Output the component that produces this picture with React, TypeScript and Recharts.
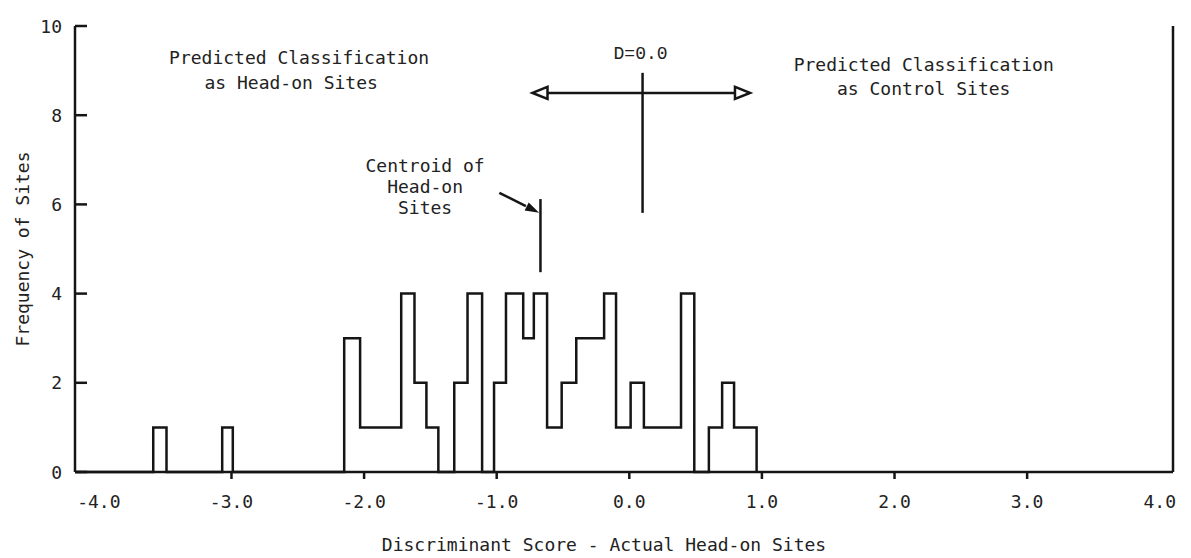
import React from "react";
import { LineChart, Line, XAxis, YAxis, ReferenceLine, ReferenceDot, Label } from "recharts";

// step edges of the histogram (discriminant score) and the site count that starts at each edge
const edges = [-4.18, -3.59, -3.49, -3.07, -2.99, -2.15, -2.03, -1.72, -1.62, -1.53, -1.44, -1.32, -1.22, -1.11, -1.02, -0.93, -0.8, -0.72, -0.62, -0.51, -0.4, -0.19, -0.1, 0.01, 0.11, 0.39, 0.49, 0.6, 0.7, 0.79, 0.96];
const counts = [0, 1, 0, 1, 0, 3, 1, 4, 2, 1, 0, 2, 4, 0, 2, 4, 3, 4, 1, 2, 3, 4, 1, 2, 1, 4, 0, 1, 2, 1, 0];

const xTicks = [-4, -3, -2, -1, 0, 1, 2, 3, 4];
const yTicks = [0, 2, 4, 6, 8, 10];

const hist = edges.map((x, i) => ({ x, y: counts[i] }));

const INK = "#151515";
const TEXT = "#222";
const FONT = "'DejaVu Sans Mono', monospace";
const SW = 2.5;

const LeftTick = ({ x, y, payload }: any) => (
  <g>
    <line x1={x + 13} x2={x + 25} y1={y} y2={y} stroke={INK} strokeWidth={SW} />
    <text x={x} y={y} textAnchor="end" dominantBaseline="central" fontFamily={FONT} fontSize={18} fill={TEXT}>
      {payload.value}
    </text>
  </g>
);

const RightTick = ({ x, y }: any) => (
  <line x1={x - 12} x2={x} y1={y} y2={y} stroke={INK} strokeWidth={SW} />
);

const XTick = ({ x, y, payload }: any) => (
  <g>
    {Math.abs(payload.value) < 4 && (
      <line x1={x} x2={x} y1={y - 23} y2={y - 16} stroke={INK} strokeWidth={SW} />
    )}
    <text x={x} y={y + 6} textAnchor="middle" dominantBaseline="central" fontFamily={FONT} fontSize={18} fill={TEXT}>
      {payload.value.toFixed(1)}
    </text>
  </g>
);

const XTitle = (p: any) => {
  const vb = p.viewBox;
  return (
    <text x={vb.x + vb.width / 2 - 20} y={vb.y + vb.height + 32} textAnchor="middle" dominantBaseline="central" fontFamily={FONT} fontSize={18} fill={TEXT}>
      Discriminant Score - Actual Head-on Sites
    </text>
  );
};

const YTitle = (p: any) => {
  const vb = p.viewBox;
  const cx = vb.x + 22;
  const cy = vb.y + vb.height / 2;
  return (
    <text x={cx} y={cy} transform={`rotate(-90 ${cx} ${cy})`} textAnchor="middle" dominantBaseline="central" fontFamily={FONT} fontSize={18} fill={TEXT}>
      Frequency of Sites
    </text>
  );
};

// annotation helpers
const textAt = (s: string, font = FONT, size = 18) => (p: any) => (
  <text x={p.cx} y={p.cy} textAnchor="middle" dominantBaseline="central" fontFamily={font} fontSize={size} fill={TEXT}>
    {s}
  </text>
);

const openHead = (dir: number) => (p: any) => (
  <path
    d={`M${p.cx},${p.cy} L${p.cx + dir * 15},${p.cy - 6} L${p.cx + dir * 15},${p.cy + 6} Z`}
    fill="#fff"
    stroke={INK}
    strokeWidth={SW}
  />
);

const solidHead = (p: any) => (
  <path
    d={`M${p.cx},${p.cy} L${p.cx - 14},${p.cy - 4.5} L${p.cx - 14},${p.cy + 4.5} Z`}
    transform={`rotate(27 ${p.cx} ${p.cy})`}
    fill={INK}
  />
);

export default function App() {
  return (
    <div style={{ position: "absolute", left: 0, top: 0, background: "#fff" }}>
      <LineChart width={1191} height={558} data={hist} margin={{ top: 26, right: 0, bottom: 46, left: 0 }}>
        <XAxis
          dataKey="x"
          type="number"
          domain={[-4.18, 4.1]}
          ticks={xTicks}
          interval={0}
          allowDataOverflow
          height={40}
          axisLine={{ stroke: INK, strokeWidth: SW }}
          tickLine={false}
          tickSize={7}
          tickMargin={16}
          tick={<XTick />}
        >
          <Label content={XTitle} />
        </XAxis>
        <YAxis
          type="number"
          domain={[0, 10]}
          ticks={yTicks}
          interval={0}
          width={75}
          axisLine={{ stroke: INK, strokeWidth: SW }}
          tickLine={false}
          tickSize={0}
          tickMargin={13}
          tick={<LeftTick />}
        >
          <Label content={YTitle} />
        </YAxis>
        <YAxis
          yAxisId="r"
          orientation="right"
          type="number"
          domain={[0, 10]}
          ticks={yTicks}
          interval={0}
          width={18}
          axisLine={{ stroke: INK, strokeWidth: SW }}
          tickLine={false}
          tickSize={0}
          tickMargin={0}
          tick={<RightTick />}
        />

        <Line type="stepAfter" dataKey="y" stroke={INK} strokeWidth={SW} dot={false} isAnimationActive={false} />

        {/* D=0.0 cut-off marker and the two-way arrow */}
        <ReferenceLine segment={[{ x: 0.1, y: 8.95 }, { x: 0.1, y: 5.81 }]} stroke={INK} strokeWidth={SW} />
        <ReferenceLine segment={[{ x: -0.62, y: 8.5 }, { x: 0.81, y: 8.5 }]} stroke={INK} strokeWidth={SW} />
        <ReferenceDot x={-0.73} y={8.5} r={0} shape={openHead(1)} />
        <ReferenceDot x={0.91} y={8.5} r={0} shape={openHead(-1)} />

        {/* centroid of head-on sites */}
        <ReferenceLine segment={[{ x: -0.67, y: 6.12 }, { x: -0.67, y: 4.48 }]} stroke={INK} strokeWidth={SW} />
        <ReferenceLine segment={[{ x: -0.98, y: 6.26 }, { x: -0.78, y: 5.96 }]} stroke={INK} strokeWidth={SW} />
        <ReferenceDot x={-0.68} y={5.81} r={0} shape={solidHead} />

        <ReferenceDot x={-2.49} y={9.3} r={0} shape={textAt("Predicted Classification")} />
        <ReferenceDot x={-2.55} y={8.74} r={0} shape={textAt("as Head-on Sites")} />
        <ReferenceDot x={2.22} y={9.13} r={0} shape={textAt("Predicted Classification")} />
        <ReferenceDot x={2.22} y={8.59} r={0} shape={textAt("as Control Sites")} />
        <ReferenceDot x={0.085} y={9.37} r={0} shape={textAt("D=0.0", "'Liberation Mono', monospace", 18)} />
        <ReferenceDot x={-1.54} y={6.88} r={0} shape={textAt("Centroid of")} />
        <ReferenceDot x={-1.54} y={6.41} r={0} shape={textAt("Head-on")} />
        <ReferenceDot x={-1.54} y={5.94} r={0} shape={textAt("Sites")} />
      </LineChart>
    </div>
  );
}
